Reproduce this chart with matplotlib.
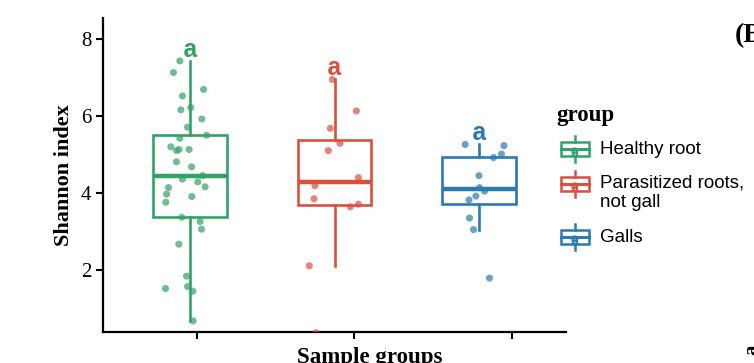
import numpy as np
import matplotlib
matplotlib.use("Agg")
from matplotlib import pyplot as plt
from matplotlib.patches import Rectangle

# data
groups = ["Healthy root", "Parasitized roots,\nnot gall", "Galls"]
colors = ["#33A266", "#D9503F", "#2B7BB0"]

healthy = [7.43, 7.13, 6.69, 6.52, 6.16, 6.22, 5.92, 5.71, 5.50, 5.42, 5.20,
           5.10, 5.13, 5.13, 4.81, 4.68, 4.36, 4.45, 4.29, 4.16, 4.14, 3.97,
           3.76, 3.91, 3.37, 3.26, 3.06, 2.67, 1.84, 1.57, 1.45, 1.52, 0.68]
healthy_jit = [-0.069, -0.113, 0.095, -0.051, -0.062, 0.007, 0.083, -0.016,
               0.116, -0.069, -0.131, -0.092, -0.074, -0.005, -0.092, 0.012,
               -0.051, 0.088, 0.055, 0.106, -0.147, -0.161, -0.166, 0.014,
               -0.055, 0.071, 0.081, -0.076, -0.023, -0.016, 0.021, -0.168,
               0.023]

parasit = [6.95, 6.13, 5.68, 5.29, 5.10, 4.40, 4.19, 3.85, 3.64, 3.71, 2.11, 0.37]
parasit_jit = [-0.015, 0.151, -0.029, 0.038, -0.043, 0.165, -0.135, -0.142,
               0.109, 0.165, -0.174, -0.128]

galls = [5.26, 5.23, 5.01, 4.92, 4.45, 4.14, 4.05, 3.92, 3.82, 3.35, 3.05, 1.79]
galls_jit = [-0.097, 0.171, 0.154, 0.099, -0.002, 0.002, 0.037, -0.023,
             -0.071, -0.067, -0.039, 0.071]

letters = ["a", "a", "a"]
xtick_pos = [1.053, 2.137, 3.226]

values = [healthy, parasit, galls]
jitters = [healthy_jit, parasit_jit, galls_jit]

serif = ["Liberation Serif", "DejaVu Serif"]
sans = ["Liberation Sans", "DejaVu Sans"]
mono = ["Liberation Mono", "DejaVu Sans Mono"]

fig = plt.figure(figsize=(7.54, 3.63), dpi=100)
ax = fig.add_axes([0.1366, 0.0854, 0.6141, 0.8650])

for i, (v, j, c) in enumerate(zip(values, jitters, colors)):
    pos = i + 1
    bp = ax.boxplot(v, positions=[pos], widths=0.51, showfliers=False,
                    showcaps=False, patch_artist=True, manage_ticks=False)
    for b in bp["boxes"]:
        b.set_facecolor("white")
        b.set_edgecolor(c)
        b.set_linewidth(1.9)
    for w in bp["whiskers"]:
        w.set_color(c)
        w.set_linewidth(1.9)
    for m in bp["medians"]:
        m.set_color(c)
        m.set_linewidth(3.2)
    ax.scatter(pos + np.array(j), v, s=26, color=c, alpha=0.7,
               edgecolors="none", zorder=3)
    top = bp["whiskers"][1].get_ydata()[1]
    ax.text(pos, top - 0.02, letters[i], color=c, ha="center", va="bottom",
            fontsize=18, fontweight="bold", family=mono)

ax.set_xlim(0.4, 3.6)
ax.set_ylim(0.39, 8.545)
ax.set_xticks(xtick_pos)
ax.set_xticklabels([])
ax.set_yticks([2, 4, 6, 8])
ax.set_yticklabels(["2", "4", "6", "8"], family=serif, fontsize=15)
ax.tick_params(axis="both", length=5, width=1.5, color="black")
for s in ["top", "right"]:
    ax.spines[s].set_visible(False)
for s in ["left", "bottom"]:
    ax.spines[s].set_linewidth(1.6)

ax.set_ylabel("Shannon index", family=serif, fontsize=16, fontweight="bold",
              labelpad=5)

# overlay in pixel coordinates for legend and cut-off texts
ov = fig.add_axes([0, 0, 1, 1], facecolor="none")
ov.set_xlim(0, 754)
ov.set_ylim(363, 0)
ov.axis("off")

ov.text(370, 347, "Sample groups", family=serif, fontsize=16.5,
        fontweight="bold", ha="center", va="top")
ov.text(735, 36, "(B)", family=serif, fontsize=20, fontweight="bold",
        ha="left", va="center")
ov.text(742, 350, "a", family=serif, fontsize=15, fontweight="bold",
        ha="left", va="center", rotation=90)

ov.text(556, 116, "group", family=serif, fontsize=16.5, fontweight="bold",
        ha="left", va="center")
key_y = [149, 184, 237]
text_y = [149, 193, 237]
for c, g, ky, ty in zip(colors, groups, key_y, text_y):
    ov.add_patch(Rectangle((560.5, ky - 7), 28, 14, fill=False, edgecolor=c,
                           linewidth=1.8))
    ov.plot([574.5, 574.5], [ky - 13, ky - 7], color=c, lw=1.8)
    ov.plot([574.5, 574.5], [ky + 7, ky + 13], color=c, lw=1.8)
    ov.plot([560.5, 588.5], [ky, ky], color=c, lw=2.2)
    ov.scatter([574.5], [ky + 2], s=30, color=c, alpha=0.7, edgecolors="none")
    ov.text(574.5, ky + 4, "a", family=mono, fontsize=10, fontweight="bold",
            color=c, ha="center", va="center")
    ov.text(600, ty, g, family=sans, fontsize=13.5, ha="left", va="center",
            linespacing=1.2)

fig.savefig("out.png", dpi=100)
